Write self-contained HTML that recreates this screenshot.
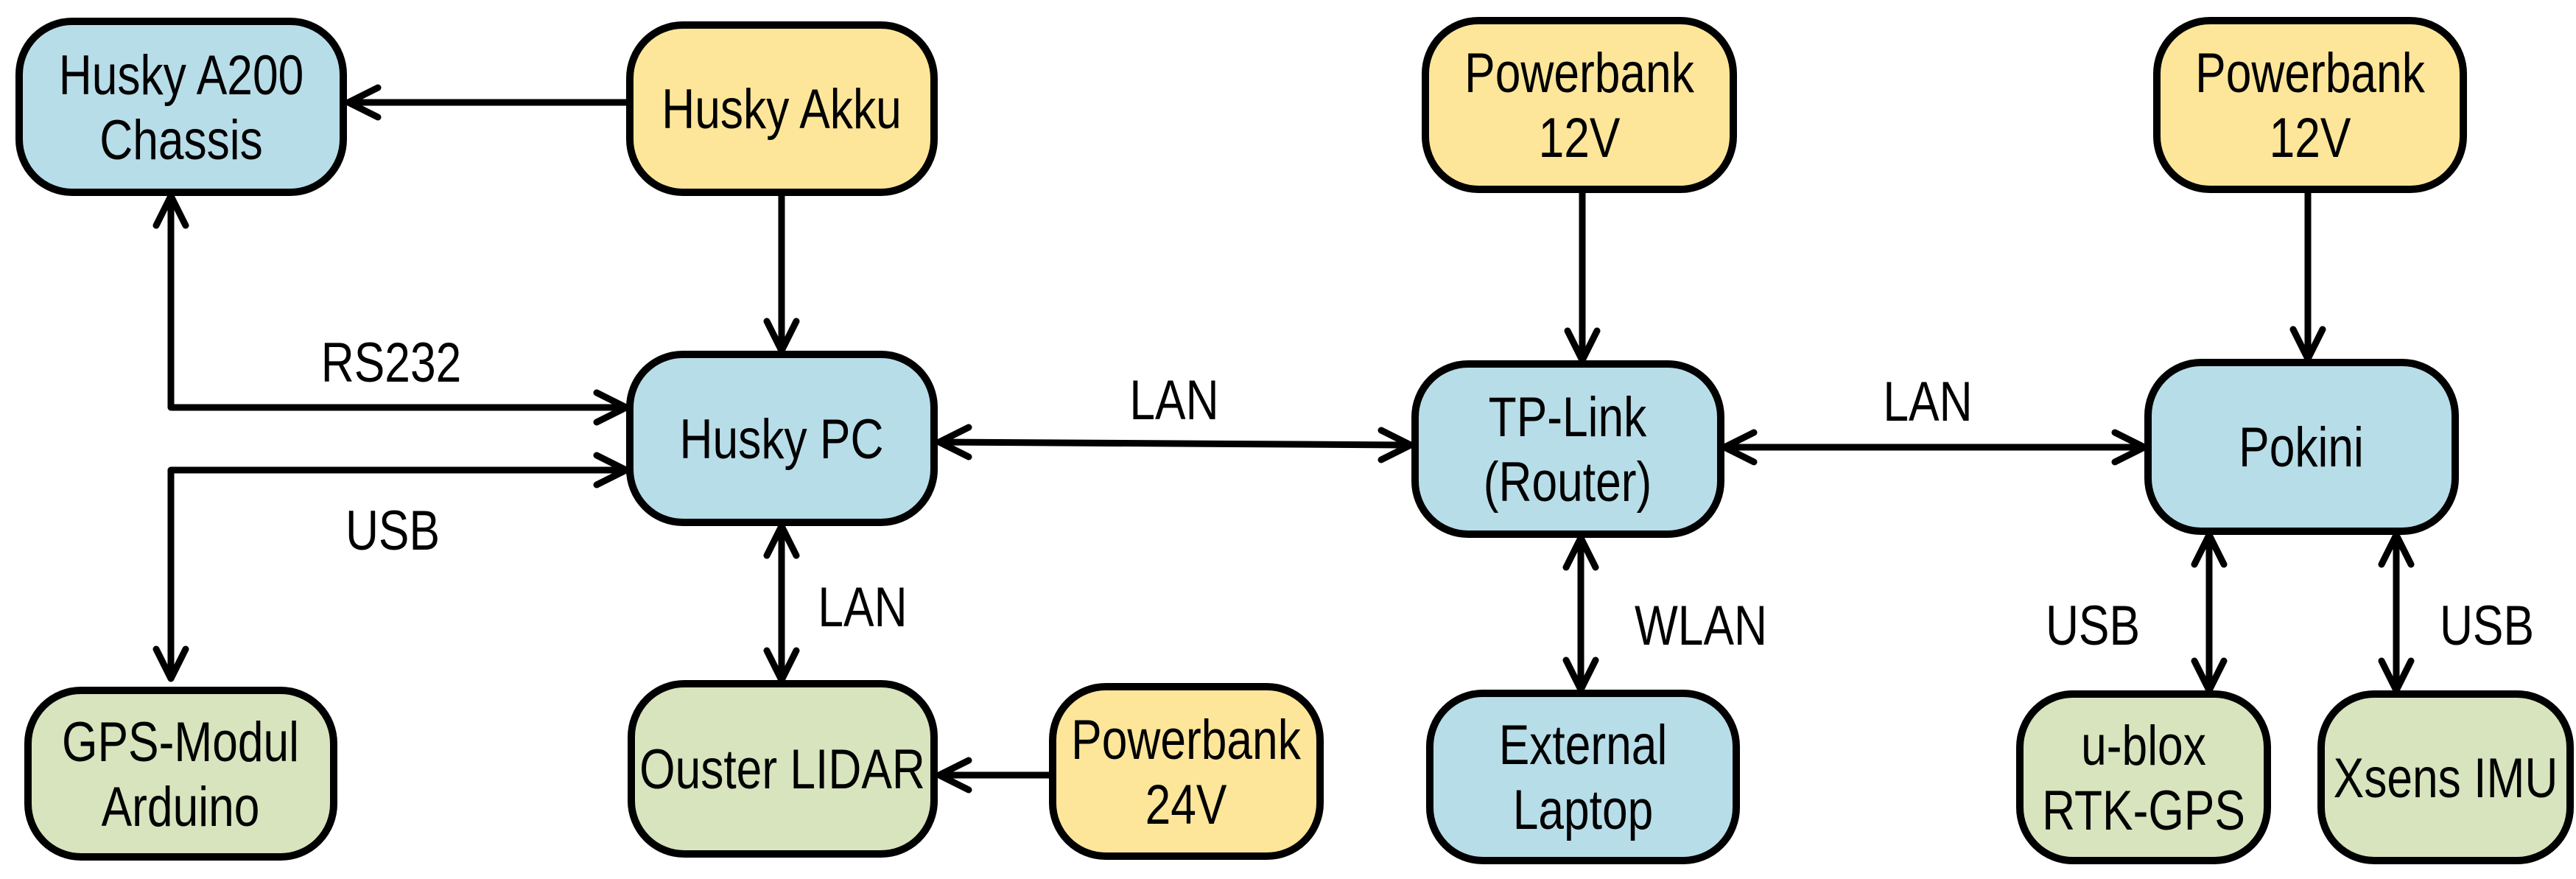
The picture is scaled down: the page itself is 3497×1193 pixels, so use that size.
<!DOCTYPE html>
<html><head><meta charset="utf-8"><style>html,body{margin:0;padding:0;background:#fff}svg{display:block}</style></head>
<body>
<svg width="3497" height="1193" viewBox="0 0 3497 1193" xmlns="http://www.w3.org/2000/svg" font-family="'Liberation Sans', sans-serif" font-size="76">
<defs>
<style>
.b{stroke:#000;stroke-width:10}
.bl{fill:#b7dde8}.y{fill:#fde699}.g{fill:#d7e4bd}
.l{stroke:#000;stroke-width:9;fill:none;stroke-linecap:round;stroke-linejoin:round}
text{fill:#000;text-anchor:middle}
</style>
</defs>
<!-- boxes -->
<rect class="b bl" x="26" y="29" width="440" height="232" rx="72"/>
<rect class="b y" x="855" y="34" width="413" height="227" rx="72"/>
<rect class="b bl" x="855" y="481" width="413" height="228" rx="72"/>
<rect class="b g" x="38" y="937" width="415" height="226" rx="72"/>
<rect class="b g" x="857" y="928" width="411" height="231" rx="72"/>
<rect class="b y" x="1429" y="932" width="363" height="230" rx="72"/>
<rect class="b y" x="1935" y="28" width="418" height="229" rx="72"/>
<rect class="b bl" x="1921" y="494" width="415" height="231" rx="72"/>
<rect class="b bl" x="1941" y="941" width="416" height="227" rx="72"/>
<rect class="b y" x="2928" y="28" width="416" height="229" rx="72"/>
<rect class="b bl" x="2916" y="492" width="417" height="229" rx="72"/>
<rect class="b g" x="2742" y="942" width="336" height="226" rx="72"/>
<rect class="b g" x="3151" y="942" width="338" height="226" rx="72"/>

<!-- connectors -->
<path class="l" d="M855 139H473 M513 119L473 139L513 159"/>
<path class="l" d="M1061 266V476 M1041 436L1061 476L1081 436"/>
<path class="l" d="M232 266V553H850 M212 306L232 266L252 306 M810 533L850 553L810 573"/>
<path class="l" d="M232 921V638H850 M212 881L232 921L252 881 M810 618L850 638L810 658"/>
<path class="l" d="M1061 714V923 M1041 754L1061 714L1081 754 M1041 883L1061 923L1081 883"/>
<path class="l" d="M1275 600L1915 604 M1315 580L1275 600L1315 620 M1875 584L1915 604L1875 624"/>
<path class="l" d="M1424 1052H1275 M1315 1032L1275 1052L1315 1072"/>
<path class="l" d="M2148 262V489 M2128 449L2148 489L2168 449"/>
<path class="l" d="M2341 607H2911 M2381 587L2341 607L2381 627 M2871 587L2911 607L2871 627"/>
<path class="l" d="M2146 730V936 M2126 770L2146 730L2166 770 M2126 896L2146 936L2166 896"/>
<path class="l" d="M3133 262V487 M3113 447L3133 487L3153 447"/>
<path class="l" d="M2999 726V937 M2979 766L2999 726L3019 766 M2979 897L2999 937L3019 897"/>
<path class="l" d="M3253 726V937 M3233 766L3253 726L3273 766 M3233 897L3253 937L3273 897"/>

<!-- box labels -->
<g transform="translate(246,145) scale(0.82,1)"><text y="-17">Husky A200</text><text y="71">Chassis</text></g>
<g transform="translate(1061,147) scale(0.82,1)"><text y="27">Husky Akku</text></g>
<g transform="translate(1061,595) scale(0.82,1)"><text y="27">Husky PC</text></g>
<g transform="translate(245,1050) scale(0.82,1)"><text y="-17">GPS-Modul</text><text y="71">Arduino</text></g>
<g transform="translate(1062,1043) scale(0.82,1)"><text y="27">Ouster LIDAR</text></g>
<g transform="translate(1610,1047) scale(0.82,1)"><text y="-17">Powerbank</text><text y="71">24V</text></g>
<g transform="translate(2144,142) scale(0.82,1)"><text y="-17">Powerbank</text><text y="71">12V</text></g>
<g transform="translate(2128,609) scale(0.82,1)"><text y="-17">TP-Link</text><text y="71">(Router)</text></g>
<g transform="translate(2149,1054) scale(0.82,1)"><text y="-17">External</text><text y="71">Laptop</text></g>
<g transform="translate(3136,142) scale(0.82,1)"><text y="-17">Powerbank</text><text y="71">12V</text></g>
<g transform="translate(3124,606) scale(0.82,1)"><text y="27">Pokini</text></g>
<g transform="translate(2910,1055) scale(0.82,1)"><text y="-17">u-blox</text><text y="71">RTK-GPS</text></g>
<g transform="translate(3320,1055) scale(0.82,1)"><text y="27">Xsens IMU</text></g>

<!-- connector labels -->
<g transform="translate(531,491) scale(0.82,1)"><text y="27">RS232</text></g>
<g transform="translate(533,719) scale(0.82,1)"><text y="27">USB</text></g>
<g transform="translate(1171,823) scale(0.82,1)"><text y="27">LAN</text></g>
<g transform="translate(1594,542) scale(0.82,1)"><text y="27">LAN</text></g>
<g transform="translate(2617,544) scale(0.82,1)"><text y="27">LAN</text></g>
<g transform="translate(2309,848) scale(0.82,1)"><text y="27">WLAN</text></g>
<g transform="translate(2841,848) scale(0.82,1)"><text y="27">USB</text></g>
<g transform="translate(3376,848) scale(0.82,1)"><text y="27">USB</text></g>
</svg>
</body></html>
